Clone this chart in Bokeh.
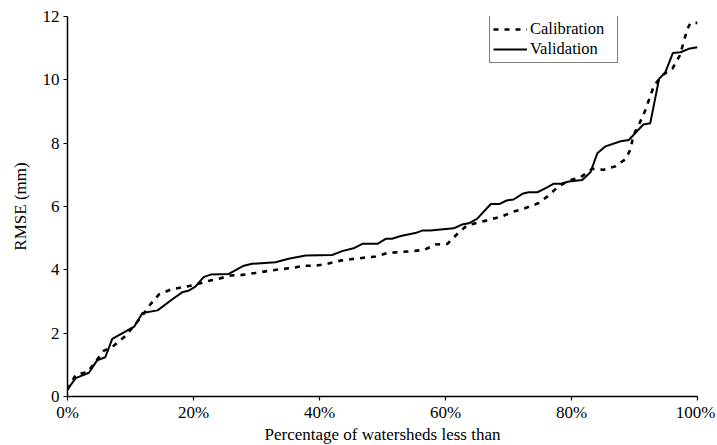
from bokeh.plotting import figure
from bokeh.models import Range1d, FixedTicker, NumeralTickFormatter, Legend, LegendItem, ColumnDataSource
from bokeh.embed import file_html
from bokeh.resources import INLINE

# Data (x in percent of watersheds, y = RMSE in mm)
val_x = [0, 1.3, 3.4, 4.7, 6.0, 7.1, 10.6, 11.9, 14.3, 16.7, 18.2, 19.3, 20.3, 21.6, 22.7,
         25.6, 26.4, 28.0, 29.3, 33.0, 35.1, 37.8, 42.0, 43.6, 45.4, 46.8, 49.2, 50.5, 51.5,
         52.9, 55.2, 56.3, 57.6, 61.3, 62.6, 63.7, 65.0, 67.2, 68.6, 69.7, 70.8, 72.2, 73.2,
         74.6, 75.9, 77.2, 78.3, 79.6, 81.7, 83.0, 84.1, 85.4, 87.8, 89.1, 91.4, 92.5, 93.9,
         94.9, 96.1, 97.3, 98.6, 100]
val_y = [0.22, 0.58, 0.75, 1.14, 1.24, 1.82, 2.21, 2.64, 2.72, 3.08, 3.29, 3.35, 3.47, 3.77, 3.85,
         3.87, 3.96, 4.13, 4.19, 4.24, 4.35, 4.45, 4.47, 4.59, 4.68, 4.82, 4.82, 4.98, 4.98,
         5.07, 5.16, 5.24, 5.24, 5.31, 5.43, 5.47, 5.61, 6.08, 6.08, 6.19, 6.22, 6.40, 6.45,
         6.45, 6.58, 6.72, 6.72, 6.79, 6.84, 7.08, 7.68, 7.90, 8.06, 8.10, 8.59, 8.63, 10.03,
         10.24, 10.85, 10.87, 10.98, 11.03]

cal_x = [0, 1.3, 3.2, 5.8, 7.1, 9.3, 11.9, 13.2, 14.5, 16.4, 18.3, 20.3, 22.2, 24.0, 25.9,
         27.7, 29.8, 31.7, 33.5, 35.7, 37.5, 39.4, 41.2, 43.3, 45.2, 47.0, 48.9, 50.8, 52.7,
         54.7, 56.6, 58.4, 60.3, 61.9, 63.4, 65.3, 67.0, 69.0, 70.8, 72.7, 74.7, 76.2, 77.8,
         79.6, 81.4, 83.3, 85.1, 87.0, 88.6, 89.4, 89.8, 90.8, 91.7, 92.4, 93.1, 94.4, 96.0,
         97.2, 97.8, 98.4, 98.9, 100]
cal_y = [0.22, 0.69, 0.77, 1.45, 1.56, 1.93, 2.56, 2.92, 3.22, 3.38, 3.45, 3.53, 3.64, 3.72, 3.82,
         3.84, 3.90, 3.96, 4.01, 4.06, 4.13, 4.13, 4.19, 4.29, 4.34, 4.38, 4.42, 4.53, 4.56,
         4.59, 4.63, 4.80, 4.82, 5.14, 5.40, 5.50, 5.58, 5.69, 5.84, 5.95, 6.10, 6.32, 6.61,
         6.82, 6.92, 7.19, 7.16, 7.27, 7.50, 7.82, 8.24, 8.63, 9.03, 9.43, 9.82, 10.14, 10.35,
         10.77, 11.19, 11.61, 11.80, 11.80]

x_ticks = [0, 0.2, 0.4, 0.6, 0.8, 1.0]
y_ticks = [0, 2, 4, 6, 8, 10, 12]

FONT = "Liberation Serif"

p = figure(frame_width=630, frame_height=380, output_backend="svg", toolbar_location=None,
           x_range=Range1d(0, 1), y_range=Range1d(0, 12),
           min_border_left=67, min_border_right=18, min_border_top=16, min_border_bottom=46)
p.outline_line_color = None
p.grid.visible = False
p.background_fill_color = "white"
p.border_fill_color = "white"

cal_src = ColumnDataSource(dict(x=[v / 100 for v in cal_x], y=cal_y))
val_src = ColumnDataSource(dict(x=[v / 100 for v in val_x], y=val_y))

r_cal = p.line("x", "y", source=cal_src, line_color="black", line_width=2.6, line_dash="5 6")
r_val = p.line("x", "y", source=val_src, line_color="black", line_width=2.0)

p.xaxis.ticker = FixedTicker(ticks=x_ticks)
p.yaxis.ticker = FixedTicker(ticks=y_ticks)
p.xaxis.formatter = NumeralTickFormatter(format="0%")

for ax in (p.xaxis, p.yaxis):
    ax.axis_line_color = "black"
    ax.axis_line_width = 1.5
    ax.major_tick_line_color = "black"
    ax.major_tick_line_width = 1.2
    ax.major_tick_out = 4
    ax.major_tick_in = 0
    ax.minor_tick_line_color = None
    ax.major_label_text_font = FONT
    ax.major_label_text_font_size = "17px"
    ax.major_label_text_color = "black"
    ax.axis_label_text_font = FONT
    ax.axis_label_text_font_size = "17px"
    ax.axis_label_text_font_style = "normal"
    ax.axis_label_text_color = "black"

p.xaxis.axis_label = "Percentage of watersheds less than"
p.yaxis.axis_label = "RMSE (mm)"
p.xaxis.major_label_standoff = 2
p.xaxis.axis_label_standoff = 0
p.yaxis.major_label_standoff = 4
p.yaxis.axis_label_standoff = 10

legend = Legend(items=[LegendItem(label="Calibration", renderers=[r_cal]),
                       LegendItem(label="Validation", renderers=[r_val])],
                location=(422, 333))
legend.label_text_font = FONT
legend.label_text_font_size = "16.5px"
legend.label_text_color = "black"
legend.border_line_color = "black"
legend.border_line_width = 1
legend.background_fill_color = "white"
legend.background_fill_alpha = 1
legend.glyph_width = 34
legend.glyph_height = 16
legend.label_height = 16
legend.label_width = 84
legend.label_standoff = 3
legend.spacing = 0
legend.padding = 3
legend.margin = 0
p.add_layout(legend)

open("out.html", "w").write(file_html(p, INLINE))
